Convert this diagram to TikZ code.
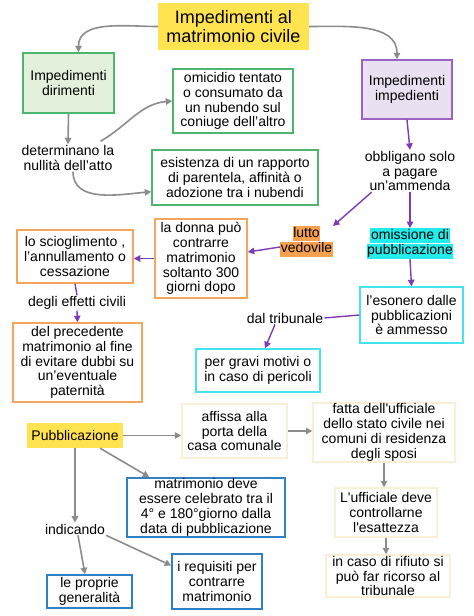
\documentclass[tikz,border=0pt]{standalone}
\usepackage{fontspec}
\setmainfont{Liberation Sans}
\usetikzlibrary{arrows.meta}
\definecolor{tyellow}{HTML}{FFE34F}
\definecolor{grnb}{HTML}{4DB56E}
\definecolor{grnf}{HTML}{E3F0DC}
\definecolor{purb}{HTML}{9C62C4}
\definecolor{purf}{HTML}{E9E0F1}
\definecolor{purarr}{HTML}{7D3CB5}
\definecolor{orgb}{HTML}{F5A65C}
\definecolor{orgf}{HTML}{F5A04C}
\definecolor{cyb}{HTML}{45E3EE}
\definecolor{cyf}{HTML}{22ECEC}
\definecolor{blub}{HTML}{2F80C6}
\definecolor{paleb}{HTML}{FAEFD6}
\definecolor{grarr}{HTML}{8C8C8C}
\newcommand{\hlline}[2]{{\setlength{\fboxsep}{0.6pt}\colorbox{#1}{\rule[-3.3pt]{0pt}{13.6pt}#2}}}
\tikzset{
  base/.style={align=center, inner sep=1pt, font=\fontsize{14}{14.8}\selectfont},
  box/.style={base, draw, line width=1.5pt},
  plain/.style={base},
  garrow/.style={draw=grarr, line width=1.6pt, -{Triangle[length=6.5pt,width=6.5pt]}},
  parrow/.style={draw=purarr, line width=1.4pt, -{Triangle[length=6.5pt,width=6.5pt]}},
  pline/.style={draw=purarr, line width=1.4pt},
}
\begin{document}
\begin{tikzpicture}[x=1pt,y=-1pt]
\useasboundingbox (0,0) rectangle (474,616);
% top
\node[base, fill=tyellow, minimum width=151pt, minimum height=47pt, font=\fontsize{18}{19}\selectfont] (title) at (233.5,26.5) {Impedimenti al\\matrimonio civile};
\node[box, draw=grnb, fill=grnf, minimum width=91pt, minimum height=60pt] (dir) at (68.5,83) {Impedimenti\\dirimenti};
\node[box, draw=grnb, fill=white, minimum width=120pt, minimum height=64pt] (omi) at (233,101) {omicidio tentato\\o consumato da\\un nubendo sul\\coniuge dell’altro};
\node[plain] (det) at (68,158) {determinano la\\nullità dell’atto};
\node[box, draw=grnb, fill=white, minimum width=166pt, minimum height=55pt] (esi) at (235,177.5) {esistenza di un rapporto\\di parentela, affinità o\\adozione tra i nubendi};
\node[box, draw=purb, fill=purf, minimum width=90pt, minimum height=59pt] (imp) at (407,89.5) {Impedimenti\\impedienti};
\node[plain] (obb) at (410,171) {obbligano solo\\a pagare\\un’ammenda};
\node[base, inner sep=0pt] (lutto) at (306.5,241.5) {\hlline{orgf}{lutto}\\\hlline{orgf}{vedovile}};
\node[base, inner sep=0pt] (omis) at (410,243.5) {\hlline{cyf}{omissione di}\\\hlline{cyf}{pubblicazione}};
\node[box, draw=orgb, fill=white, minimum width=92pt, minimum height=79pt] (donna) at (201,258.5) {la donna può\\contrarre\\matrimonio\\soltanto 300\\giorni dopo};
\node[box, draw=orgb, fill=white, minimum width=116pt, minimum height=53pt] (sci) at (75,256.5) {lo scioglimento ,\\l’annullamento o\\cessazione};
\node[plain] (eff) at (77,303) {degli effetti civili};
\node[box, draw=orgb, fill=white, minimum width=129pt, minimum height=79pt] (prec) at (77.5,362.5) {del precedente\\matrimonio al fine\\di evitare dubbi su\\un’eventuale\\paternità};
\node[box, draw=cyb, fill=white, minimum width=103pt, minimum height=56pt] (eso) at (411.5,315) {l’esonero dalle\\pubblicazioni\\è ammesso};
\node[plain] (trib) at (285,318) {dal tribunale};
\node[box, draw=cyb, fill=white, minimum width=124pt, minimum height=43pt] (grav) at (258,370.5) {per gravi motivi o\\in caso di pericoli};
% bottom
\node[base, fill=tyellow, minimum width=96pt, minimum height=25pt] (pub) at (75,435.5) {Pubblicazione};
\node[box, draw=paleb, fill=white, minimum width=105pt, minimum height=54pt] (aff) at (234.5,431) {affissa alla\\porta della\\casa comunale};
\node[box, draw=paleb, fill=white, minimum width=142pt, minimum height=57pt] (fat) at (384,432.5) {fatta dell\textquotesingle ufficiale\\dello stato civile nei\\comuni di residenza\\degli sposi};
\node[box, draw=paleb, fill=white, minimum width=102pt, minimum height=49pt] (uff) at (386,512.5) {L\textquotesingle ufficiale deve\\controllarne\\l\textquotesingle esattezza};
\node[box, draw=paleb, fill=white, minimum width=124pt, minimum height=42pt] (rif) at (388,576) {in caso di rifiuto si\\può far ricorso al\\tribunale};
\node[box, draw=blub, fill=white, minimum width=158pt, minimum height=59pt] (mat) at (206,507.5) {matrimonio deve\\essere celebrato tra il\\4° e 180°giorno dalla\\data di pubblicazione};
\node[plain] (ind) at (75,529) {indicando};
\node[box, draw=blub, fill=white, minimum width=85pt, minimum height=33pt] (gen) at (89.5,591.5) {le proprie\\generalità};
\node[box, draw=blub, fill=white, minimum width=90pt, minimum height=55pt] (req) at (217,581.5) {i requisiti per\\contrarre\\matrimonio};
% connectors top
\draw[garrow] (title.west) to[out=180,in=90] ([xshift=10pt]dir.north);
\draw[garrow] (title.east) to[out=0,in=90] ([xshift=-10pt]imp.north);
\draw[garrow] (dir.south) -- (det.north);
\draw[garrow] ([xshift=-15pt,yshift=3pt]det.north east) to[out=30,in=185] (omi.west);
\draw[garrow] ([xshift=5pt]det.south) to[out=-90,in=185] ([yshift=14pt]esi.south west);
\draw[parrow] (imp.south) -- (obb.north);
\draw[parrow] ([xshift=8pt]obb.south west) -- (lutto.north east);
\draw[parrow] (obb.south) -- (omis.north);
\draw[parrow] ([yshift=-5.5pt]lutto.west) -- ([yshift=6.5pt]donna.east);
\draw[parrow] (donna.west) -- (donna.west -| sci.east);
\draw[pline] (sci.south) -- (eff.north);
\draw[parrow] (eff.south) -- (prec.north);
\draw[parrow] (omis.south) -- (eso.north);
\draw[pline] (eso.west) -- (trib.east);
\draw[parrow] ([xshift=-10pt]trib.south) -- ([xshift=7pt]grav.north);
% connectors bottom
\draw[garrow] (pub.east) -- (pub.east -| aff.west);
\draw[garrow] (aff.east) -- (aff.east -| fat.west);
\draw[garrow] (fat.south) -- (fat.south |- uff.north);
\draw[garrow] (uff.south) -- (uff.south |- rif.north);
\draw[garrow] ([xshift=25pt]pub.south) -- ([xshift=23pt]mat.north west);
\draw[garrow] (pub.south) -- (ind.north);
\draw[garrow] ([xshift=3pt]ind.south) -- ([xshift=-4.5pt]gen.north);
\draw[garrow] (ind.south east) -- ([yshift=16pt]req.west);
\end{tikzpicture}
\end{document}
